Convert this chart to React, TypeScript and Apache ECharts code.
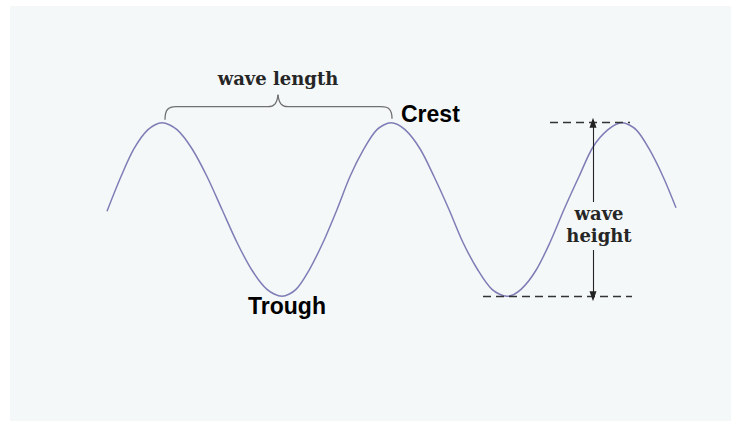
import React, { useEffect, useRef } from "react";
import * as echarts from "echarts";

// Wave profile: horizontal distance and surface height (amplitude units)
const distance = [
  0, 14, 27, 41, 55,
  70, 85, 100, 115, 130, 145, 160, 175,
  189, 202, 216, 230, 243, 257, 270, 284,
  298, 313, 327, 342, 356, 371, 385, 400,
  414, 429, 443, 457, 472, 486, 501, 515,
  529, 542, 556, 569,
];
const height = [
  -0.02, 0.38, 0.7, 0.92, 1.0,
  0.92, 0.7, 0.38, 0.0, -0.38, -0.7, -0.92, -1.0,
  -0.92, -0.7, -0.38, 0.0, 0.38, 0.7, 0.92, 1.0,
  0.92, 0.7, 0.38, 0.0, -0.38, -0.7, -0.92, -1.0,
  -0.92, -0.7, -0.38, 0.0, 0.38, 0.72, 0.92, 1.0,
  0.92, 0.7, 0.38, 0.02,
];

// Key features
const crests = [55, 284, 515];
const troughs = [175, 400];
const labels = { length: "wave length", crest: "Crest", trough: "Trough", h1: "wave", h2: "height" };
// wave-height guide (distance positions)
const guideTop = [443, 523];
const guideBottom = [376, 525];
const arrowAt = 486;
const arrowGap = [0.086, -0.467];

export default function App() {
  const ref = useRef<HTMLDivElement>(null);
  useEffect(() => {
    if (!ref.current) return;
    const chart = echarts.init(ref.current, null, { renderer: "svg" });
    const dashStyle = { color: "#333", width: 1.4, type: [8, 5] as any };
    const arrowStyle = { color: "#222", width: 1.1, type: "solid" as any };
    chart.setOption({
      animation: false,
      backgroundColor: "transparent",
      grid: { left: 87, width: 610, top: 101, height: 217 },
      xAxis: { type: "value", min: -20, max: 590, show: false },
      yAxis: { type: "value", min: -1.25, max: 1.25, show: false },
      graphic: [
        {
          type: "rect",
          z: -10,
          silent: true,
          shape: { x: 10, y: 6, width: 721, height: 415 },
          style: { fill: "#f4f8f8" },
        },
      ],
      series: [
        {
          type: "line",
          data: distance.map((d, i) => [d, height[i]]),
          smooth: 0.3,
          showSymbol: false,
          clip: false,
          silent: true,
          lineStyle: { color: "#7f7db6", width: 1.5 },
          markLine: {
            silent: true,
            symbol: ["none", "none"],
            label: { show: false },
            emphasis: { disabled: true },
            data: [
              [
                { coord: [guideTop[0], 1], lineStyle: dashStyle },
                { coord: [guideTop[1], 1] },
              ],
              [
                { coord: [guideBottom[0], -1], lineStyle: dashStyle },
                { coord: [guideBottom[1], -1] },
              ],
              [
                { coord: [arrowAt, arrowGap[0]], symbol: "none", lineStyle: arrowStyle },
                { coord: [arrowAt, 1], symbol: "triangle", symbolSize: [7, 10] },
              ],
              [
                { coord: [arrowAt, arrowGap[1]], symbol: "none", lineStyle: arrowStyle },
                { coord: [arrowAt, -1], symbol: "triangle", symbolSize: [7, 10] },
              ],
            ],
          },
        },
      ],
    });

    const p = (x: number, y: number) => chart.convertToPixel({ gridIndex: 0 }, [x, y]) as number[];
    const c1 = p(crests[0], 1);
    const c2 = p(crests[1], 1);
    const t1 = p(troughs[0], -1);
    const ar = p(arrowAt, 0);
    const mx = (c1[0] + c2[0]) / 2 + 1.5;
    const lx = c1[0] + 3;
    const rx = c2[0] + 1;
    const yEnd = c1[1] - 3;
    const yH = c1[1] - 16;
    const yTip = c1[1] - 28;
    const braceStyle = { stroke: "#707070", lineWidth: 1.3, fill: null };
    const serif = "'DejaVu Serif', 'Liberation Serif', serif";
    const sans = "'Liberation Sans', Arial, sans-serif";

    chart.setOption({
      graphic: [
        {
          type: "rect",
          z: -10,
          silent: true,
          shape: { x: 10, y: 6, width: 721, height: 415 },
          style: { fill: "#f4f8f8" },
        },
        {
          type: "bezierCurve",
          silent: true,
          shape: { x1: lx, y1: yEnd, cpx1: lx, cpy1: yH + 3, cpx2: lx + 3, cpy2: yH, x2: lx + 11, y2: yH },
          style: braceStyle,
        },
        { type: "line", silent: true, shape: { x1: lx + 11, y1: yH, x2: mx - 10, y2: yH }, style: braceStyle },
        {
          type: "bezierCurve",
          silent: true,
          shape: { x1: mx - 10, y1: yH, cpx1: mx - 4, cpy1: yH, cpx2: mx - 1, cpy2: yH - 3, x2: mx, y2: yTip },
          style: braceStyle,
        },
        {
          type: "bezierCurve",
          silent: true,
          shape: { x1: mx, y1: yTip, cpx1: mx + 1, cpy1: yH - 3, cpx2: mx + 4, cpy2: yH, x2: mx + 10, y2: yH },
          style: braceStyle,
        },
        { type: "line", silent: true, shape: { x1: mx + 10, y1: yH, x2: rx - 11, y2: yH }, style: braceStyle },
        {
          type: "bezierCurve",
          silent: true,
          shape: { x1: rx - 11, y1: yH, cpx1: rx - 3, cpy1: yH, cpx2: rx, cpy2: yH + 3, x2: rx, y2: yEnd - 1 },
          style: braceStyle,
        },
        {
          type: "text",
          silent: true,
          x: mx,
          y: c1[1] - 44,
          style: { text: labels.length, font: `bold 18px ${serif}`, fill: "#262626", align: "center", verticalAlign: "middle" },
        },
        {
          type: "text",
          silent: true,
          x: c2[0] + 10,
          y: c2[1] - 9,
          style: { text: labels.crest, font: `bold 23px ${sans}`, fill: "#000", align: "left", verticalAlign: "middle" },
        },
        {
          type: "text",
          silent: true,
          x: t1[0] + 5,
          y: t1[1] + 10,
          style: { text: labels.trough, font: `bold 23px ${sans}`, fill: "#000", align: "center", verticalAlign: "middle" },
        },
        {
          type: "text",
          silent: true,
          x: ar[0] + 6,
          y: ar[1] + 4,
          style: { text: labels.h1, font: `bold 18px ${serif}`, fill: "#262626", align: "center", verticalAlign: "middle" },
        },
        {
          type: "text",
          silent: true,
          x: ar[0] + 6,
          y: ar[1] + 26,
          style: { text: labels.h2, font: `bold 18px ${serif}`, fill: "#262626", align: "center", verticalAlign: "middle" },
        },
      ],
    });
    return () => chart.dispose();
  }, []);
  return (
    <div
      ref={ref}
      style={{ position: "absolute", left: 0, top: 0, width: 731, height: 422 }}
    />
  );
}
